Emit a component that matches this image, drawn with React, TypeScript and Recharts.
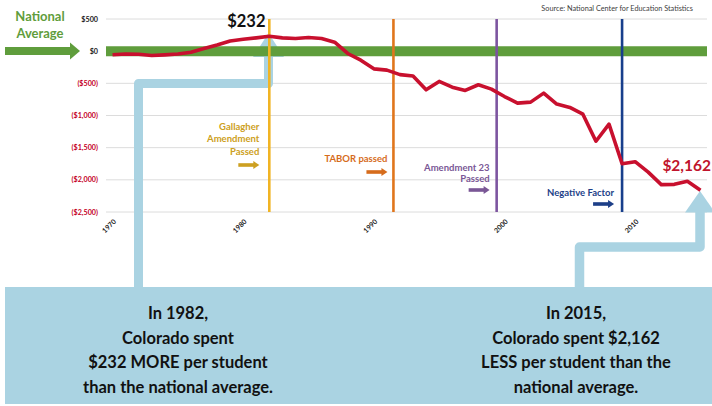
import React from 'react';
import {
  LineChart,
  Line,
  XAxis,
  YAxis,
  CartesianGrid,
  ReferenceLine,
  ReferenceDot,
  Customized,
} from 'recharts';

// ---------- data ----------
const years = [
  1970, 1971, 1972, 1973, 1974, 1975, 1976, 1977, 1978, 1979,
  1980, 1981, 1982, 1983, 1984, 1985, 1986, 1987, 1988, 1989,
  1990, 1991, 1992, 1993, 1994, 1995, 1996, 1997, 1998, 1999,
  2000, 2001, 2002, 2003, 2004, 2005, 2006, 2007, 2008, 2009,
  2010, 2011, 2012, 2013, 2014, 2015,
];
const diffFromNational = [
  -55, -45, -48, -68, -58, -45, -18, 40, 95, 158,
  185, 207, 232, 207, 197, 212, 197, 140, -36, -140,
  -275, -295, -365, -385, -600, -470, -560, -610, -522, -590,
  -705, -808, -792, -652, -823, -875, -980, -1400, -1134, -1750,
  -1718, -1880, -2075, -2070, -2022, -2162,
];
const xTicks = [1970, 1980, 1990, 2000, 2010];
const yTicks = [500, 0, -500, -1000, -1500, -2000, -2500];

const eventYears = [1982, 1991.5, 1999.4, 2009];
const eventLabels = [
  ['Gallagher', 'Amendment', 'Passed'],
  ['TABOR passed'],
  ['Amendment 23', 'Passed'],
  ['Negative Factor'],
];
const highlightYears = [1982, 2015];
const highlightValues = [232, -2162];
const highlightTexts = ['$232', '$2,162'];

const leftCallout = ['In 1982,', 'Colorado spent', '$232 MORE per student', 'than the national average.'];
const rightCallout = ['In 2015,', 'Colorado spent $2,162', 'LESS per student than the', 'national average.'];
const sourceText = 'Source: National Center for Education Statistics';
const nationalLabel = ['National', 'Average'];

const data = years.map((y, i) => ({ year: y, value: diffFromNational[i] }));

// ---------- styles ----------
const FONT = 'Lato, "Open Sans", sans-serif';
const RED = '#c8102e';
const GREEN = '#5f9d3c';
const BLUE = '#aad3e2';
const eventStyles = [
  { line: '#f1b424', text: '#cda021', dx: -10, y0: 129.5, lh: 12.5, arrowY: 165, arrowLen: 21 },
  { line: '#e0761c', text: '#d66c1c', dx: -6, y0: 161.5, lh: 12, arrowY: 172, arrowLen: 21 },
  { line: '#7d55a0', text: '#7a5796', dx: -7, y0: 170.5, lh: 11.5, arrowY: 190, arrowLen: 21 },
  { line: '#183f8c', text: '#1d3f88', dx: -8, y0: 195.5, lh: 12, arrowY: 204, arrowLen: 21 },
];
const highlightStyles = [
  { fill: '#111', dx: -23, dy: -9, anchor: 'middle', size: 16.5 },
  { fill: '#c0142c', dx: 10.5, dy: -19, anchor: 'end', size: 15.5 },
];

const fmtMoney = (v: number) => {
  const s = '$' + Math.abs(v).toLocaleString('en-US');
  return v < 0 ? `(${s})` : s;
};

const YTick = (props: any) => {
  const { x, y, payload } = props;
  const v = payload.value;
  return (
    <text x={x} y={y} dy={2.5} textAnchor="end" fontSize={7.2} fontWeight={700}
      fontFamily={FONT} fill={v < 0 ? '#c4001f' : '#222'}>
      {fmtMoney(v)}
    </text>
  );
};

const XTick = (props: any) => {
  const { x, y, payload } = props;
  return (
    <text transform={`translate(${x + 4},${y + 2}) rotate(-45)`} textAnchor="end"
      fontSize={7} fontWeight={700} fontFamily={FONT} fill="#222">
      {payload.value}
    </text>
  );
};

const Arrow = ({ x1, x2, y, color }: any) => (
  <g>
    <rect x={x1} y={y - 1.8} width={x2 - x1 - 5} height={3.6} fill={color} />
    <polygon points={`${x2 - 6},${y - 4} ${x2},${y} ${x2 - 6},${y + 4}`} fill={color} />
  </g>
);

const makeEventLabel = (i: number) => (props: any) => {
  const vb = props.viewBox || {};
  const x = vb.x;
  const st = eventStyles[i];
  const tx = x + st.dx;
  return (
    <g>
      {eventLabels[i].map((t, k) => (
        <text key={k} x={tx} y={st.y0 + k * st.lh} textAnchor="end" fontSize={9.5}
          fontWeight={700} fontFamily={FONT} fill={st.text}>
          {t}
        </text>
      ))}
      <Arrow x1={tx - st.arrowLen} x2={tx} y={st.arrowY} color={st.text} />
    </g>
  );
};

const makeHighlightLabel = (i: number) => (props: any) => {
  const vb = props.viewBox || {};
  const cx = vb.x + (vb.width || 0) / 2;
  const cy = vb.y + (vb.height || 0) / 2;
  const st = highlightStyles[i];
  return (
    <text x={cx + st.dx} y={cy + st.dy} textAnchor={st.anchor as any} fontSize={st.size}
      fontWeight={700} fontFamily={FONT} fill={st.fill}>
      {highlightTexts[i]}
    </text>
  );
};

const Decor = () => (
  <g>
    {/* National average arrow + label */}
    <rect x={5} y={47} width={66} height={8} fill={GREEN} />
    <polygon points="70,42.5 80,51 70,59.5" fill={GREEN} />
    {nationalLabel.map((t, k) => (
      <text key={k} x={40} y={21 + k * 16.5} textAnchor="middle" fontSize={13} fontWeight={700}
        fontFamily={FONT} fill={GREEN}>
        {t}
      </text>
    ))}
    <text x={693} y={11} textAnchor="end" fontSize={7.3} fontFamily={FONT} fill="#404040">
      {sourceText}
    </text>
    {/* callout box and connectors */}
    <rect x={5} y={287} width={707} height={117} fill={BLUE} />
    <polyline points="138.5,290 138.5,83.5 268.5,83.5 268.5,56" fill="none" stroke={BLUE}
      strokeWidth={9} strokeLinejoin="round" />
    <polygon points="253,57 284,57 268.5,33" fill={BLUE} />
    <polyline points="579.5,290 579.5,247 700,247 700,211" fill="none" stroke={BLUE}
      strokeWidth={9.5} strokeLinejoin="round" />
    <polygon points="685,212.5 715,212.5 700,191" fill={BLUE} />
    {leftCallout.map((t, k) => (
      <text key={k} x={178} y={319 + k * 24.5} textAnchor="middle" fontSize={16.5}
        fontWeight={700} fontFamily={FONT} fill="#111">
        {t}
      </text>
    ))}
    {rightCallout.map((t, k) => (
      <text key={k} x={576} y={319 + k * 24.5} textAnchor="middle" fontSize={16.5}
        fontWeight={700} fontFamily={FONT} fill="#111">
        {t}
      </text>
    ))}
  </g>
);

export default function App() {
  return (
    <div style={{ position: 'absolute', left: 0, top: 0, width: 712, height: 406, background: '#fff' }}>
      <LineChart width={712} height={406} data={data}
        margin={{ top: 19, right: 5, bottom: 0, left: 0 }}>
        <CartesianGrid vertical={false} stroke="#dcdcdc" strokeWidth={1} />
        <XAxis dataKey="year" type="number" domain={[1969.5, 2015.5]} ticks={xTicks}
          interval={0} height={194} axisLine={false} tickLine={false} tick={<XTick />} />
        <YAxis type="number" domain={[-2500, 500]} ticks={yTicks} interval={0} width={106}
          axisLine={false} tickLine={false} tick={<YTick />} />
        <ReferenceLine y={0} stroke={GREEN} strokeWidth={10} />
        <Customized component={<Decor />} />
        {eventYears.map((ey, i) => (
          <ReferenceLine key={ey} x={ey} stroke={eventStyles[i].line} strokeWidth={2.6}
            label={makeEventLabel(i)} />
        ))}
        <Line type="linear" dataKey="value" stroke={RED} strokeWidth={3.6} dot={false}
          isAnimationActive={false} strokeLinejoin="round" />
        {highlightYears.map((hy, i) => (
          <ReferenceDot key={hy} x={hy} y={highlightValues[i]} r={1} fill="none" stroke="none"
            label={makeHighlightLabel(i)} />
        ))}
      </LineChart>
    </div>
  );
}
